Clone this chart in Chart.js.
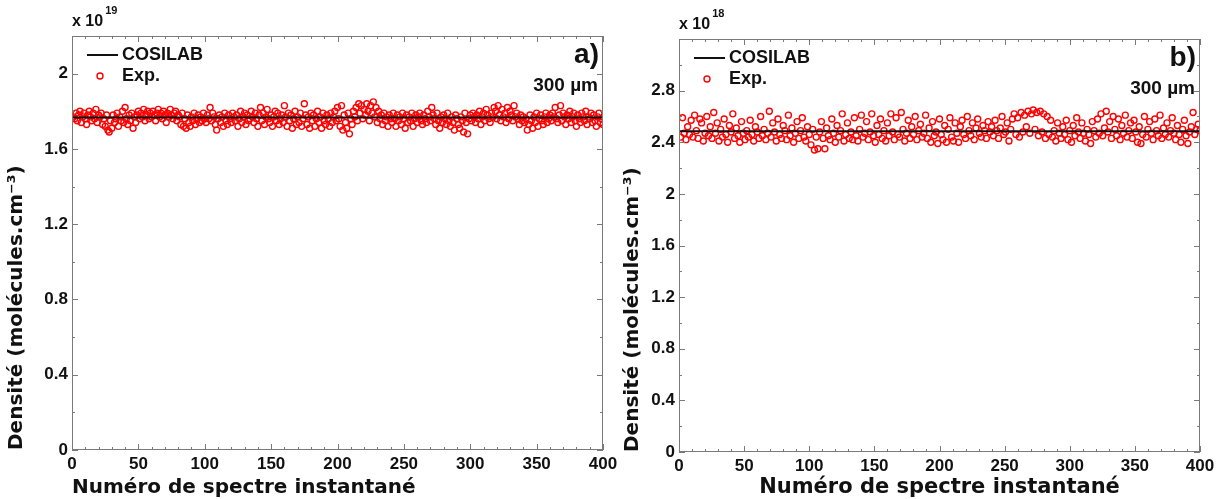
<!DOCTYPE html>
<html>
<head>
<meta charset="utf-8">
<script src="https://cdn.jsdelivr.net/npm/chart.js@4.4.1/dist/chart.umd.min.js"></script>
<style>
  body { margin: 0; background: #fff; }
  #wrap { position: relative; width: 1223px; height: 499px; }
  canvas { position: absolute; top: 0; }
  #chartA { left: 0; }
  #chartB { left: 612px; }
</style>
</head>
<body>
<div id="wrap">
  <canvas id="chartA" width="630" height="499"></canvas>
  <canvas id="chartB" width="611" height="499"></canvas>
</div>
<script>
// a) densité en unités de 1e19, spectres 1..400
const expA = [
  1.77,1.76,1.79,1.75,1.78,1.80,1.74,1.77,1.79,1.76,1.73,1.78,1.80,1.77,1.75,1.79,1.76,1.81,1.74,1.78,
  1.77,1.79,1.73,1.76,1.72,1.78,1.70,1.69,1.75,1.71,1.78,1.74,1.76,1.79,1.72,1.77,1.75,1.80,1.74,1.82,
  1.76,1.73,1.78,1.75,1.79,1.71,1.77,1.74,1.78,1.80,1.76,1.79,1.77,1.81,1.75,1.78,1.80,1.76,1.79,1.77,
  1.80,1.78,1.75,1.79,1.81,1.77,1.79,1.76,1.80,1.78,1.74,1.79,1.77,1.81,1.78,1.76,1.79,1.80,1.75,1.78,
  1.77,1.73,1.79,1.72,1.76,1.71,1.78,1.74,1.72,1.77,1.75,1.79,1.73,1.76,1.78,1.74,1.77,1.75,1.79,1.76,
  1.74,1.78,1.76,1.82,1.75,1.79,1.77,1.73,1.70,1.76,1.78,1.74,1.77,1.72,1.79,1.75,1.73,1.78,1.76,1.74,
  1.79,1.77,1.75,1.78,1.72,1.76,1.80,1.74,1.77,1.79,1.73,1.78,1.75,1.76,1.80,1.77,1.74,1.79,1.76,1.72,
  1.78,1.82,1.75,1.79,1.73,1.77,1.81,1.76,1.74,1.78,1.72,1.77,1.80,1.75,1.79,1.73,1.76,1.78,1.74,1.83,
  1.77,1.72,1.79,1.75,1.78,1.71,1.76,1.80,1.73,1.77,1.74,1.79,1.72,1.76,1.84,1.78,1.73,1.77,1.71,1.79,
  1.75,1.78,1.72,1.76,1.80,1.74,1.77,1.71,1.79,1.75,1.73,1.78,1.76,1.72,1.79,1.74,1.77,1.80,1.75,1.82,
  1.76,1.72,1.83,1.70,1.78,1.74,1.71,1.79,1.68,1.76,1.73,1.80,1.77,1.82,1.75,1.84,1.79,1.83,1.76,1.81,
  1.78,1.84,1.80,1.75,1.83,1.79,1.85,1.77,1.82,1.74,1.80,1.76,1.78,1.73,1.79,1.75,1.77,1.72,1.78,1.76,
  1.74,1.79,1.76,1.72,1.78,1.75,1.77,1.73,1.79,1.76,1.71,1.78,1.74,1.77,1.75,1.79,1.72,1.76,1.78,1.74,
  1.77,1.79,1.75,1.73,1.78,1.76,1.74,1.80,1.77,1.75,1.82,1.78,1.76,1.73,1.79,1.75,1.71,1.77,1.74,1.78,
  1.76,1.73,1.79,1.75,1.72,1.77,1.74,1.70,1.78,1.76,1.73,1.71,1.77,1.75,1.69,1.79,1.74,1.68,1.76,1.78,
  1.75,1.79,1.77,1.74,1.78,1.76,1.80,1.73,1.77,1.79,1.75,1.81,1.78,1.76,1.74,1.79,1.77,1.82,1.80,1.76,
  1.83,1.78,1.75,1.81,1.77,1.79,1.74,1.82,1.76,1.80,1.78,1.75,1.83,1.77,1.79,1.76,1.73,1.78,1.75,1.77,
  1.74,1.76,1.70,1.73,1.78,1.75,1.71,1.77,1.74,1.79,1.72,1.76,1.78,1.75,1.73,1.77,1.79,1.74,1.76,1.78,
  1.75,1.79,1.77,1.82,1.76,1.74,1.78,1.83,1.75,1.79,1.77,1.73,1.78,1.76,1.80,1.74,1.77,1.79,1.75,1.72,
  1.78,1.76,1.74,1.79,1.77,1.75,1.80,1.73,1.77,1.76,1.79,1.74,1.78,1.75,1.72,1.77,1.79,1.74,1.76,1.73
];
// b) densité en unités de 1e18, 300 spectres répartis sur 0..400
const expB = [
  2.44,2.59,2.47,2.42,2.52,2.46,2.57,2.44,2.61,2.49,2.43,2.58,2.55,2.41,2.47,2.60,2.45,2.52,2.43,2.63,
  2.47,2.55,2.41,2.50,2.44,2.58,2.46,2.40,2.53,2.48,2.62,2.43,2.51,2.45,2.40,2.56,2.47,2.42,2.49,2.44,
  2.57,2.46,2.41,2.52,2.48,2.43,2.60,2.45,2.50,2.42,2.47,2.64,2.44,2.55,2.48,2.41,2.58,2.46,2.43,2.53,
  2.49,2.42,2.61,2.45,2.51,2.40,2.47,2.56,2.43,2.49,2.59,2.44,2.41,2.52,2.46,2.38,2.50,2.34,2.44,2.35,
  2.48,2.56,2.43,2.35,2.51,2.45,2.42,2.58,2.47,2.40,2.53,2.44,2.49,2.62,2.41,2.46,2.55,2.43,2.48,2.42,
  2.59,2.45,2.41,2.50,2.61,2.44,2.47,2.56,2.42,2.48,2.62,2.45,2.40,2.53,2.46,2.58,2.43,2.49,2.41,2.55,
  2.45,2.62,2.48,2.42,2.59,2.46,2.44,2.63,2.50,2.41,2.47,2.57,2.43,2.52,2.46,2.60,2.42,2.49,2.54,2.44,
  2.47,2.61,2.43,2.51,2.40,2.56,2.45,2.48,2.39,2.58,2.46,2.42,2.53,2.40,2.50,2.59,2.44,2.41,2.55,2.47,
  2.40,2.52,2.57,2.46,2.43,2.60,2.49,2.45,2.55,2.42,2.51,2.58,2.47,2.44,2.53,2.49,2.43,2.56,2.48,2.52,
  2.45,2.57,2.49,2.43,2.51,2.60,2.46,2.48,2.55,2.41,2.50,2.58,2.62,2.46,2.59,2.44,2.63,2.48,2.61,2.52,
  2.64,2.47,2.62,2.65,2.50,2.63,2.45,2.64,2.48,2.62,2.43,2.60,2.46,2.57,2.44,2.49,2.41,2.55,2.47,2.43,
  2.52,2.46,2.57,2.42,2.49,2.40,2.53,2.45,2.59,2.48,2.43,2.55,2.47,2.41,2.50,2.46,2.39,2.56,2.49,2.44,
  2.58,2.47,2.62,2.45,2.51,2.64,2.48,2.56,2.43,2.60,2.50,2.45,2.58,2.42,2.53,2.47,2.61,2.44,2.49,2.55,
  2.43,2.57,2.48,2.40,2.52,2.39,2.46,2.60,2.44,2.50,2.56,2.47,2.42,2.58,2.49,2.45,2.61,2.43,2.51,2.46,
  2.55,2.44,2.49,2.59,2.47,2.42,2.53,2.46,2.40,2.50,2.57,2.45,2.39,2.48,2.52,2.63,2.46,2.50,2.54,2.49
];
// COSILAB (valeur constante)
const cosilabX = [0, 400];
const cosilabA = [1.767, 1.767];
const cosilabB = [2.485, 2.485];

const xTicks = [0, 50, 100, 150, 200, 250, 300, 350, 400];
const yTicksA = [0, 0.4, 0.8, 1.2, 1.6, 2];
const yTicksB = [0, 0.4, 0.8, 1.2, 1.6, 2, 2.4, 2.8];
const seriesNames = ['COSILAB', 'Exp.'];

const tickFont = { family: '"Liberation Sans", Arial, sans-serif', weight: 'bold', size: 17 };
const titleFamily = '"DejaVu Sans", Lato, sans-serif';
const boxColor = '#7a7a7a';

// cadre, petites graduations internes, légende et annotations
const decor = {
  id: 'decor',
  afterDatasetsDraw(chart, args, o) {
    const { ctx, chartArea: a, scales: { x, y } } = chart;
    const line = (x1, y1, x2, y2) => { ctx.beginPath(); ctx.moveTo(x1, y1); ctx.lineTo(x2, y2); ctx.stroke(); };
    ctx.save();
    ctx.strokeStyle = boxColor;
    ctx.lineWidth = 1;
    ctx.strokeRect(Math.round(a.left) + 0.5, Math.round(a.top) + 0.5,
      Math.round(a.right - a.left) - 1, Math.round(a.bottom - a.top) - 1);
    for (let v = 0; v <= 400; v += 10) {
      const p = Math.round(x.getPixelForValue(v)) + 0.5;
      const len = v % 50 === 0 ? 6 : 3;
      line(p, a.bottom, p, a.bottom - len);
      line(p, a.top, p, a.top + len);
    }
    for (let v = 0; v <= o.yMax + 1e-9; v += 0.2) {
      const p = Math.round(y.getPixelForValue(v)) + 0.5;
      const len = Math.round(v * 10) % 4 === 0 ? 6 : 3;
      line(a.left, p, a.left + len, p);
      line(a.right, p, a.right - len, p);
    }

    // légende
    const ds = chart.data.datasets;
    ctx.font = 'bold 18px "Liberation Sans", Arial, sans-serif';
    ctx.textBaseline = 'middle';
    ctx.textAlign = 'left';
    ctx.fillStyle = '#111';
    ctx.strokeStyle = ds[0].borderColor;
    ctx.lineWidth = 2;
    line(a.left + 15, a.top + 19, a.left + 46, a.top + 19);
    ctx.fillText(ds[0].label, a.left + 50, a.top + 19);
    ctx.strokeStyle = ds[1].borderColor;
    ctx.lineWidth = 1.4;
    ctx.beginPath(); ctx.arc(a.left + 28, a.top + 40, 3, 0, Math.PI * 2); ctx.stroke();
    ctx.fillText(ds[1].label, a.left + 50, a.top + 40);

    // lettre du panneau et épaisseur
    ctx.textAlign = 'right';
    ctx.font = 'bold 28px "Liberation Sans", Arial, sans-serif';
    ctx.fillText(o.tag, a.right - 4, a.top + 19);
    ctx.font = 'bold 19px "Liberation Sans", Arial, sans-serif';
    ctx.fillText('300 µm', a.right - 5, a.top + 50);

    // facteur d'échelle
    ctx.textAlign = 'left';
    ctx.textBaseline = 'alphabetic';
    ctx.font = 'bold 16px "Liberation Sans", Arial, sans-serif';
    ctx.fillText('x 10', a.left, a.top - 10);
    const w = ctx.measureText('x 10').width;
    ctx.font = 'bold 11px "Liberation Sans", Arial, sans-serif';
    ctx.fillText(o.exp, a.left + w + 2, a.top - 22);
    ctx.restore();
  }
};

function makeChart(id, exp, cosilab, yMax, yTicks, cfg) {
  const step = 400 / exp.length;
  return new Chart(document.getElementById(id), {
    type: 'scatter',
    data: {
      datasets: [
        {
          type: 'line',
          label: seriesNames[0],
          data: cosilabX.map((v, i) => ({ x: v, y: cosilab[i] })),
          borderColor: '#111',
          borderWidth: 2,
          pointRadius: 0,
          order: 0
        },
        {
          label: seriesNames[1],
          data: exp.map((v, i) => ({ x: (i + 1) * step, y: v })),
          borderColor: '#ff0000',
          backgroundColor: 'rgba(0,0,0,0)',
          pointRadius: 3,
          pointBorderWidth: 1.4,
          order: 1
        }
      ]
    },
    options: {
      responsive: false,
      animation: false,
      devicePixelRatio: 1,
      layout: { padding: { top: cfg.top, right: cfg.right, left: 0, bottom: 0 } },
      plugins: {
        legend: { display: false },
        tooltip: { enabled: false },
        decor: { tag: cfg.tag, exp: cfg.exp, yMax: yMax }
      },
      scales: {
        x: {
          type: 'linear',
          min: 0,
          max: 400,
          grid: { display: false, drawTicks: false },
          border: { display: false },
          afterBuildTicks: s => { s.ticks = xTicks.map(v => ({ value: v })); },
          afterFit: s => { s.height = cfg.xHeight; s.paddingLeft = 0; s.paddingRight = 0; },
          ticks: { color: '#111', font: tickFont, padding: 4, maxRotation: 0, autoSkip: false,
                   callback: v => String(v) },
          title: {
            display: true,
            text: 'Numéro de spectre instantané',
            align: cfg.xAlign,
            color: '#111',
            font: { family: titleFamily, weight: 'bold', size: cfg.xTitleSize, lineHeight: 1 },
            padding: { top: 0, bottom: 1 }
          }
        },
        y: {
          type: 'linear',
          min: 0,
          max: yMax,
          grid: { display: false, drawTicks: false },
          border: { display: false },
          afterBuildTicks: s => { s.ticks = yTicks.map(v => ({ value: v })); },
          afterFit: s => { s.width = cfg.yWidth; s.paddingTop = 0; s.paddingBottom = 0; },
          ticks: { color: '#111', font: tickFont, padding: 4, callback: v => String(v) },
          title: {
            display: true,
            text: 'Densité (molécules.cm⁻³)',
            align: 'start',
            color: '#111',
            font: { family: titleFamily, weight: 'bold', size: 20, lineHeight: 1 },
            padding: { top: cfg.yTitlePad, bottom: 0 }
          }
        }
      }
    },
    plugins: [decor]
  });
}

makeChart('chartA', expA, cosilabA, 2.2, yTicksA,
  { top: 36, right: 27, xHeight: 49, yWidth: 72, yTitlePad: 7, xAlign: 'start', xTitleSize: 20, tag: 'a)', exp: '19' });
makeChart('chartB', expB, cosilabB, 3.2, yTicksB,
  { top: 39, right: 23, xHeight: 47, yWidth: 67, yTitlePad: 11, xAlign: 'center', xTitleSize: 21, tag: 'b)', exp: '18' });
</script>
</body>
</html>
